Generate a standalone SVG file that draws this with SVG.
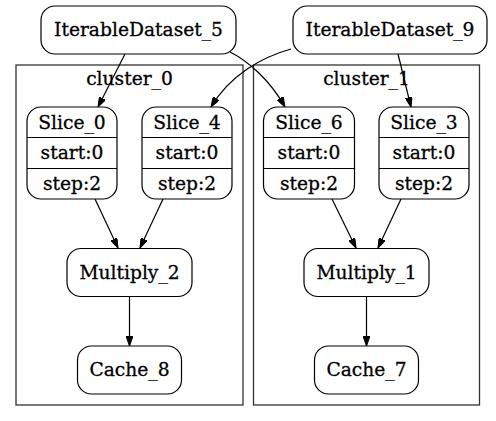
<svg xmlns="http://www.w3.org/2000/svg" width="496" height="421" viewBox="0 0 496 421">
<style>
.bg{fill:#fff}
.cl{fill:none;stroke:#333;stroke-width:1.3}
.nd{fill:#fff;stroke:#000;stroke-width:1.2}
.dv{stroke:#000;stroke-width:1.2}
.ed{fill:none;stroke:#000;stroke-width:1.2;marker-end:url(#ah)}
text{font-family:"DejaVu Serif",serif;font-size:18.67px;text-anchor:middle;fill:#000;stroke:#000;stroke-width:0.3}
</style>
<defs>
<marker id="ah" viewBox="0 0 10 7" refX="10" refY="3.5" markerWidth="10" markerHeight="7" markerUnits="userSpaceOnUse" orient="auto">
<path d="M0,0 L10,3.5 L0,7 z" fill="#000" stroke="#000" stroke-width="1"/>
</marker>
</defs>
<rect class="bg" x="0" y="0" width="496" height="421"/>
<g id="cluster_0">
<rect class="cl" x="16" y="65" width="227" height="340"/>
<text x="129.5" y="85">cluster_0</text>
</g>
<g id="cluster_1">
<rect class="cl" x="253.5" y="65" width="226" height="340"/>
<text x="366.5" y="85">cluster_1</text>
</g>
<g id="connectors">
<path class="ed" d="M125,54 L98,107"/>
<path class="ed" d="M230,52 C248,61 270,80 285,107"/>
<path class="ed" d="M291,49 C262,57 230,75 211,107"/>
<path class="ed" d="M398,54 L411,107"/>
<path class="ed" d="M95,199 L118,248"/>
<path class="ed" d="M163,199 L140,248"/>
<path class="ed" d="M129.5,297 L129.5,346"/>
<path class="ed" d="M332,199 L356,248"/>
<path class="ed" d="M401,199 L378,248"/>
<path class="ed" d="M366.5,297 L366.5,346"/>
</g>
<g id="IterableDataset_5">
<rect class="nd" x="41" y="6" width="195" height="48" rx="14"/>
<text x="138.5" y="36">IterableDataset_5</text>
</g>
<g id="IterableDataset_9">
<rect class="nd" x="293" y="6" width="194" height="48" rx="14"/>
<text x="390" y="36">IterableDataset_9</text>
</g>
<g id="Slice_0">
<rect class="nd" x="27" y="107" width="90" height="92" rx="14"/>
<line class="dv" x1="27" y1="137.5" x2="117" y2="137.5"/>
<line class="dv" x1="27" y1="168.5" x2="117" y2="168.5"/>
<text x="72" y="128.5">Slice_0</text>
<text x="72" y="159">start:0</text>
<text x="72" y="190">step:2</text>
</g>
<g id="Slice_4">
<rect class="nd" x="142" y="107" width="90" height="92" rx="14"/>
<line class="dv" x1="142" y1="137.5" x2="232" y2="137.5"/>
<line class="dv" x1="142" y1="168.5" x2="232" y2="168.5"/>
<text x="187" y="128.5">Slice_4</text>
<text x="187" y="159">start:0</text>
<text x="187" y="190">step:2</text>
</g>
<g id="Slice_6">
<rect class="nd" x="263.5" y="107" width="91" height="92" rx="14"/>
<line class="dv" x1="263.5" y1="137.5" x2="354.5" y2="137.5"/>
<line class="dv" x1="263.5" y1="168.5" x2="354.5" y2="168.5"/>
<text x="309" y="128.5">Slice_6</text>
<text x="309" y="159">start:0</text>
<text x="309" y="190">step:2</text>
</g>
<g id="Slice_3">
<rect class="nd" x="379" y="107" width="90" height="92" rx="14"/>
<line class="dv" x1="379" y1="137.5" x2="469" y2="137.5"/>
<line class="dv" x1="379" y1="168.5" x2="469" y2="168.5"/>
<text x="424" y="128.5">Slice_3</text>
<text x="424" y="159">start:0</text>
<text x="424" y="190">step:2</text>
</g>
<g id="Multiply_2">
<rect class="nd" x="67" y="248.5" width="125" height="48" rx="14"/>
<text x="129.5" y="278.5">Multiply_2</text>
</g>
<g id="Cache_8">
<rect class="nd" x="77.5" y="346" width="104" height="48" rx="14"/>
<text x="129.5" y="376">Cache_8</text>
</g>
<g id="Multiply_1">
<rect class="nd" x="304" y="248.5" width="125" height="48" rx="14"/>
<text x="366.5" y="278.5">Multiply_1</text>
</g>
<g id="Cache_7">
<rect class="nd" x="314.5" y="346" width="104" height="48" rx="14"/>
<text x="366.5" y="376">Cache_7</text>
</g>
</svg>
